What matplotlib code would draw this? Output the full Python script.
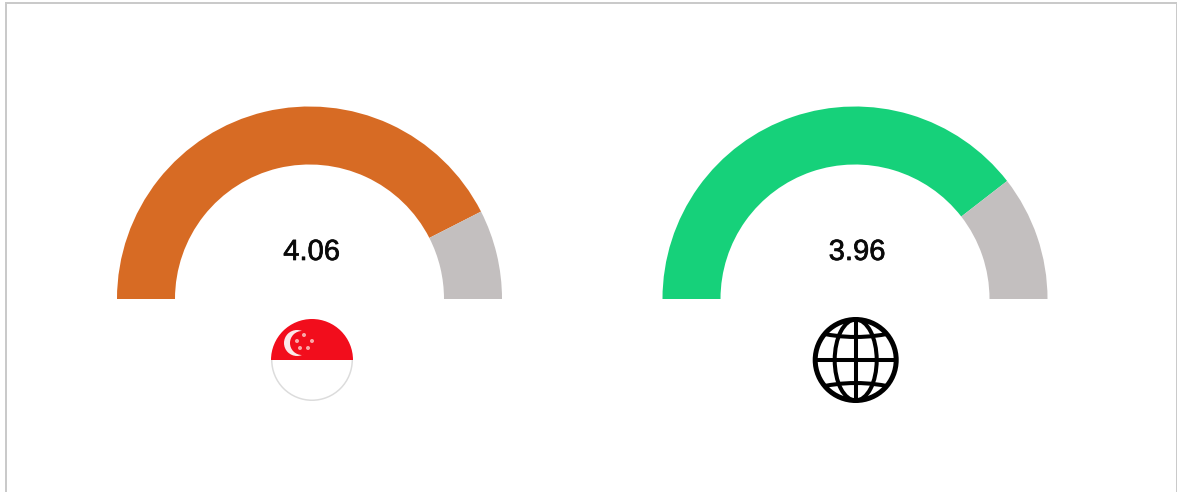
import matplotlib
matplotlib.use('Agg')
import matplotlib.pyplot as plt
import matplotlib.patheffects as pe
from matplotlib.patches import Wedge, Circle, Ellipse, PathPatch, Rectangle
from matplotlib.path import Path

# Data
labels = ['4.06', '3.96']
filled_share = [85, 79]
empty_share = [15, 21]
gauge_colors = ['#D76B24', '#16D17A']
empty_color = '#C3BFBF'

# Pixel layout
centers = [309.5, 855]
base_y = 299
outer_r = 192.5
ring_w = 58

fig = plt.figure(figsize=(11.77, 4.92), dpi=100)
ax = fig.add_axes([0, 0, 1, 1])
ax.set_xlim(0, 1177)
ax.set_ylim(492, 0)
ax.axis('off')

# Outer frame, no bottom edge
frame = '#CACACA'
ax.add_patch(Rectangle((5, 2), 1172, 2, color=frame, lw=0))
ax.add_patch(Rectangle((5, 2), 2, 490, color=frame, lw=0))
ax.add_patch(Rectangle((1175.5, 2), 1.5, 490, color=frame, lw=0))

# y axis is inverted so 180 -> 360 sweeps over the top, left to right
for cx, label, fill, empty, col in zip(centers, labels, filled_share, empty_share, gauge_colors):
    split = 180 + 180 * fill / (fill + empty)
    ax.add_patch(Wedge((cx, base_y), outer_r, 180, split, width=ring_w, color=col, lw=0))
    ax.add_patch(Wedge((cx, base_y), outer_r, split, 360, width=ring_w, color=empty_color, lw=0))
    ax.text(cx + 2, 252, label, ha='center', va='center', fontsize=21,
            family='Liberation Sans', color='#0A0A0A',
            path_effects=[pe.withStroke(linewidth=0.5, foreground='#0A0A0A')])

# Singapore flag badge
fx, fy, fr = 312, 360, 41
flag_red = '#F20D1C'
ax.add_patch(Wedge((fx, fy), fr, 180, 360, color=flag_red, lw=0))
ax.add_patch(Wedge((fx, fy), fr, 0, 180, width=1.5, color='#DCDCDC', lw=0))
ax.add_patch(Circle((297, 343), 13, color='#FBE9E9', lw=0))
ax.add_patch(Circle((302, 343), 12, color=flag_red, lw=0))
for sx, sy in [(304, 335), (297, 341), (312, 341), (300, 348), (308, 348)]:
    ax.add_patch(Circle((sx, sy), 2, color='#F9A9A9', lw=0))

# Globe icon
gx, gy, gr = 855.7, 360, 40.5
ring = Circle((gx, gy), gr, fill=False, ec='black', lw=3.6)
ax.add_patch(ring)
inner = Circle((gx, gy), gr, transform=ax.transData)
meridian = Ellipse((gx, gy), 42, 2 * gr, fill=False, ec='black', lw=2.9)
ax.add_patch(meridian)
ax.plot([gx, gx], [gy - gr, gy + gr], color='black', lw=2.9, solid_capstyle='butt')
ax.plot([gx - gr, gx + gr], [gy, gy], color='black', lw=2.9, solid_capstyle='butt')
for edge_y, ctrl_y in [(332, 342), (388, 378)]:
    verts = [(gx - gr, edge_y), (gx, ctrl_y), (gx + gr, edge_y)]
    curve = PathPatch(Path(verts, [Path.MOVETO, Path.CURVE3, Path.CURVE3]),
                      fill=False, ec='black', lw=2.9)
    ax.add_patch(curve)
    curve.set_clip_path(inner)

fig.savefig('out.png', dpi=100)
